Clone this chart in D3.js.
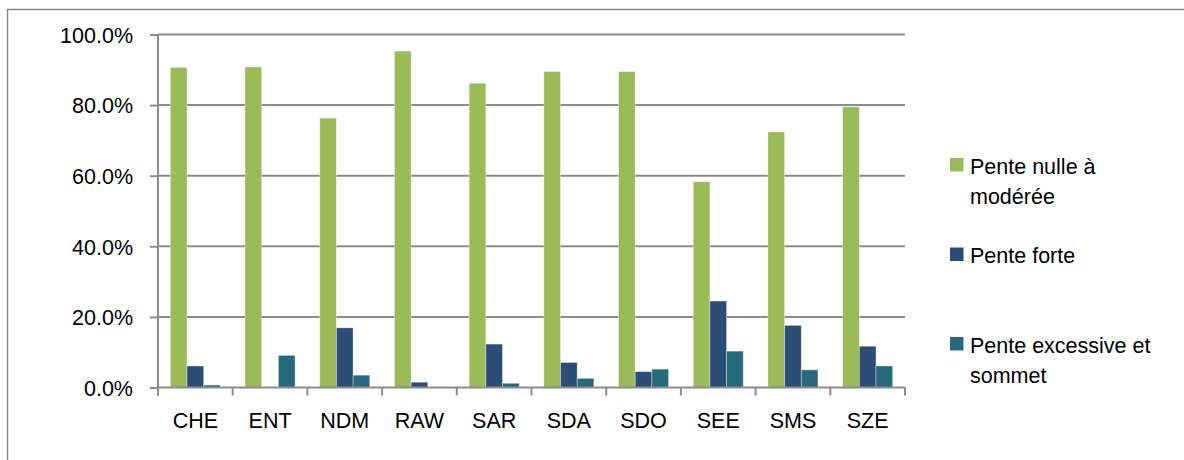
<!DOCTYPE html>
<html>
<head>
<meta charset="utf-8">
<script src="https://cdn.jsdelivr.net/npm/d3@7"></script>
<style>
  body { margin: 0; background: #fff; }
  text { font-family: "Liberation Sans", Arial, sans-serif; fill: #000; }
</style>
</head>
<body>
<div id="chart"></div>
<script>
var categories = ['CHE', 'ENT', 'NDM', 'RAW', 'SAR', 'SDA', 'SDO', 'SEE', 'SMS', 'SZE'];
var seriesNames = ['Pente nulle à modérée', 'Pente forte', 'Pente excessive et sommet'];
var legendLines = [['Pente nulle à', 'modérée'], ['Pente forte'], ['Pente excessive et', 'sommet']];
var nulle = [90.7, 90.8, 76.3, 95.3, 86.2, 89.5, 89.5, 58.3, 72.4, 79.5];
var forte = [6.1, 0, 16.9, 1.5, 12.3, 7.1, 4.5, 24.5, 17.6, 11.7];
var excessive = [0.7, 9.1, 3.5, 0, 1.2, 2.6, 5.2, 10.3, 5.0, 6.1];
var yTicks = [0, 20, 40, 60, 80, 100];

var width = 1184, height = 460,
    plotLeft = 158, plotRight = 905, plotTop = 34.5, plotBottom = 387.5;

var svg = d3.select('#chart')
    .append('svg')
    .attr('width', width)
    .attr('height', height);

var color = d3.scaleOrdinal(seriesNames, ['#9BBB59', '#2C4D75', '#276A7C']);
var series = [nulle, forte, excessive];

// outer frame (only top and left edges are visible)
svg.append('path')
    .attr('d', 'M7.5,460V9.5H1184')
    .attr('fill', 'none')
    .attr('stroke', '#8a8a8a')
    .attr('stroke-width', 1.5);

var x0 = d3.scaleBand()
    .domain(categories)
    .range([plotLeft, plotRight])
    .paddingInner(0.33)
    .paddingOuter(0.165);

var x1 = d3.scaleBand()
    .domain(d3.range(series.length))
    .range([0, x0.bandwidth()]);

var y = d3.scaleLinear()
    .domain([0, 100])
    .range([plotBottom, plotTop]);

// gridlines
svg.append('g')
    .selectAll('line')
    .data(yTicks.slice(1))
    .enter().append('line')
    .attr('x1', plotLeft).attr('x2', plotRight)
    .attr('y1', function (d) { return y(d); })
    .attr('y2', function (d) { return y(d); })
    .attr('stroke', '#8c8c8c')
    .attr('stroke-width', 2);

// bars
var group = svg.append('g')
    .selectAll('g')
    .data(categories)
    .enter().append('g')
    .attr('transform', function (d) { return 'translate(' + x0(d) + ',0)'; });

group.selectAll('rect')
    .data(function (d, i) {
        return series.map(function (s, k) { return {k: k, v: s[i]}; });
    })
    .enter().append('rect')
    .attr('x', function (d) { return x1(d.k); })
    .attr('width', x1.bandwidth())
    .attr('y', function (d) { return y(d.v); })
    .attr('height', function (d) { return y(0) - y(d.v); })
    .attr('fill', function (d) { return color(seriesNames[d.k]); })
    .attr('stroke', function (d) { return d.v > 0 ? 'rgba(255,255,255,0.45)' : 'none'; })
    .attr('stroke-width', 0.8);

// y axis
var yAxis = svg.append('g')
    .attr('transform', 'translate(' + plotLeft + ',0)')
    .call(d3.axisLeft(y)
        .tickValues(yTicks)
        .tickSize(8)
        .tickPadding(17)
        .tickFormat(function (d) { return d.toFixed(1) + '%'; }));
yAxis.select('.domain')
    .attr('d', 'M0,' + plotTop + 'V' + (plotBottom + 8))
    .attr('stroke', '#8c8c8c').attr('stroke-width', 2);
yAxis.selectAll('.tick line').attr('stroke', '#8c8c8c').attr('stroke-width', 2);
yAxis.selectAll('.tick text')
    .attr('font-size', 21.5)
    .attr('font-family', '"Liberation Sans", Arial, sans-serif')
    .attr('dy', '0.36em');

// x axis
var step = x0.step(), gap = (step - x0.bandwidth()) / 2;
var xAxis = svg.append('g')
    .attr('transform', 'translate(0,' + plotBottom + ')')
    .call(d3.axisBottom(x0).tickSize(0).tickPadding(25));
xAxis.select('.domain')
    .attr('d', 'M' + plotLeft + ',0H' + plotRight)
    .attr('stroke', '#8c8c8c').attr('stroke-width', 2);
xAxis.selectAll('.tick text')
    .attr('font-size', 21.5)
    .attr('font-family', '"Liberation Sans", Arial, sans-serif');
xAxis.selectAll('.sep')
    .data(categories.concat(['end']))
    .enter().append('line')
    .attr('class', 'sep')
    .attr('x1', function (d) { return d === 'end' ? plotRight : x0(d) - gap; })
    .attr('x2', function (d) { return d === 'end' ? plotRight : x0(d) - gap; })
    .attr('y1', 0).attr('y2', 8)
    .attr('stroke', '#8c8c8c').attr('stroke-width', 2);

// legend
var legend = svg.append('g')
    .selectAll('g')
    .data(seriesNames)
    .enter().append('g')
    .attr('transform', function (d, i) { return 'translate(950,' + (158 + i * 89.5) + ')'; });

legend.append('rect')
    .attr('width', 13.5)
    .attr('height', 13.5)
    .attr('fill', function (d) { return color(d); });

legend.append('text')
    .attr('x', 20)
    .attr('y', 15.5)
    .attr('font-size', 21.5)
    .selectAll('tspan')
    .data(function (d, i) { return legendLines[i]; })
    .enter().append('tspan')
    .attr('x', 20)
    .attr('dy', function (d, i) { return i === 0 ? 0 : 30; })
    .text(function (d) { return d; });
</script>
</body>
</html>
